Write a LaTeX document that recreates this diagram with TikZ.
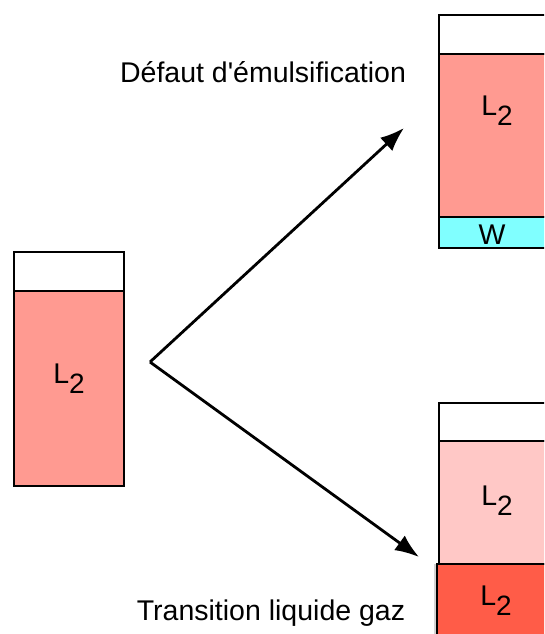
\documentclass[tikz,border=0pt]{standalone}
\usepackage{fontspec}
\setmainfont{Liberation Sans}
\usetikzlibrary{arrows.meta,shadows}
\definecolor{phaseL}{RGB}{255,154,145}
\definecolor{phaseLclair}{RGB}{255,200,198}
\definecolor{phaseGaz}{RGB}{255,92,72}
\definecolor{phaseW}{RGB}{128,255,255}
\newcommand{\Ldeux}{L\raisebox{-10pt}{\fontsize{28}{32}\selectfont 2}}
\newcommand{\apos}{\XeTeXglyph\XeTeXcharglyph"0027\relax}

\begin{document}
\begin{tikzpicture}[x=1pt,y=-1pt,
  tube/.style={draw=black,line width=1.2pt},
  lbl/.style={font=\fontsize{28.5}{34}\selectfont,inner sep=0pt,anchor=base},
  flow/.style={line width=2.8pt,-{Latex[length=24pt,width=18pt]}}]
  \useasboundingbox (0,0) rectangle (544,634);
  \clip (0,0) rectangle (544,634);
  \def\tw{110};
  % tube de depart
  \draw[tube,fill=white] (14,252) rectangle ++(\tw,39);
  \draw[tube,fill=phaseL] (14,291) rectangle ++(\tw,195);
  \node[lbl] (Lstart) at (69,383) {\Ldeux};
  % defaut d'emulsification
  \draw[tube,fill=white] (439,15) rectangle ++(\tw,39);
  \draw[tube,fill=phaseL] (439,54) rectangle ++(\tw,163);
  \draw[tube,fill=phaseW] (439,217) rectangle ++(\tw,31);
  \node[lbl] (Lhaut) at (497,115) {\Ldeux};
  \node[lbl] (W) at (492,244) {W};
  % transition liquide gaz
  \draw[tube,fill=white] (439,403) rectangle ++(\tw,38);
  \draw[tube,fill=phaseLclair] (439,441) rectangle ++(\tw,123);
  \draw[tube,fill=phaseGaz,drop shadow={shadow xshift=-3pt,shadow yshift=0pt,opacity=0.35}]
    (437,564) rectangle ++(\tw,80);
  \node[lbl] (Lclair) at (497,505) {\Ldeux};
  \node[lbl] (Lgaz) at (496,605) {\Ldeux};
  % fleches
  \coordinate (fork) at (150,362);
  \coordinate (tipA) at (404,128);
  \coordinate (tipB) at (419,557);
  \draw[flow] (fork) -- (tipA);
  \draw[flow] (fork) -- (tipB);
  \node[lbl] (emul) at (263,82) {Défaut d\apos émulsification};
  \node[lbl] (trans) at (271,620) {Transition liquide gaz};
\end{tikzpicture}
\end{document}
